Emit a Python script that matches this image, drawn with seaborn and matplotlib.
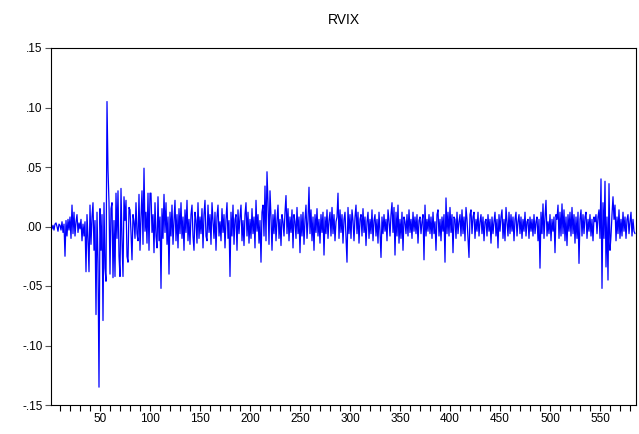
import numpy as np
import pandas as pd
import matplotlib
matplotlib.use("Agg")
import matplotlib.pyplot as plt
import seaborn as sns

title = "RVIX"
# values in thousandths
rvix_milli = [
    0, -2, 1, -3, 2, 3, 0, -4, 2, 1,
    -3, 4, -5, 2, -25, 5, -8, 6, -3, 8,
    -10, 18, -6, 12, -8, 4, 10, -5, 3, -2,
    6, -12, 2, -8, 4, -38, 10, -10, -38, 18,
    -15, 8, 20, -20, 5, -74, 12, -30, -135, 15,
    -20, 10, -79, 20, -35, -46, 105, 48, 20, -40,
    15, 20, -43, 5, -42, 28, -10, 30, -25, -42,
    32, -12, -42, 25, 5, 22, -25, -30, 16, 14,
    -5, -28, 10, 4, -10, 20, -6, -12, 27, -20,
    8, 30, -15, 49, -4, 12, -14, 28, -20, 28,
    28, -5, 10, -22, 20, -8, -18, 25, -12, 8,
    -52, 15, -10, 27, -5, 20, -15, 8, -40, 12,
    -8, 18, -15, 5, 22, -12, 10, -18, 15, -6,
    20, -10, 8, -20, 14, -5, 22, -12, 6, -15,
    10, 18, -8, -20, 12, 5, -14, 20, -10, 8,
    -6, 15, -18, 10, 22, -8, -12, 18, -5, 10,
    -15, 20, 5, -10, 12, -20, 8, 18, -8, 4,
    -12, 15, -5, 10, -18, 6, 20, -10, 5, -42,
    12, -8, 18, -15, 6, 10, -20, 14, -6, 8,
    18, -12, 5, -16, 10, 20, -8, 12, -14, 6,
    -10, 15, -6, 8, -18, 22, -4, 10, -14, 5,
    -30, 12, 18, -8, 34, -12, 46, 20, -15, 30,
    8, -20, 10, -6, 14, -12, 5, 18, -10, 6,
    -16, 10, 4, -8, 12, 26, -6, 15, -12, 8,
    -5, 14, -18, 10, 4, -10, 16, -6, 8, -22,
    10, -8, 12, -15, 6, 18, -10, 5, 33, -6,
    14, -12, 8, -20, 10, -5, 15, -8, 6, -14,
    10, -5, 12, -24, 8, -6, 14, -10, 5, 12,
    -8, 16, -6, 10, -12, 4, 8, 28, -10, 14,
    -5, 10, -14, 6, 12, -8, -30, 16, -6, 10,
    -10, 14, 5, -12, 8, 18, -6, 12, -14, 6,
    10, -8, 15, -5, 8, -16, 4, 12, -10, 6,
    -6, 14, -12, 5, 10, -8, 6, -14, 12, -4,
    -26, 8, -6, 10, -4, 6, -12, 14, 5, -8,
    10, 20, -5, 16, -24, 12, -8, 18, -14, 6,
    -10, 12, -20, 8, 4, -6, 10, -8, 14, -5,
    6, -10, 12, -4, 8, -6, 10, -14, 5, 8,
    -6, 4, 10, -28, 18, -8, 6, -4, 10, -6,
    8, -10, 12, -6, 4, -20, 10, 14, -8, 6,
    -12, 8, -4, 10, -30, 24, -6, 12, -8, 16,
    -5, 10, -22, 8, 6, -10, 12, -6, 4, 10,
    -8, 14, -6, 8, -12, 16, 6, -10, -26, 10,
    14, -6, 8, 12, -10, 6, -4, 12, -8, 4,
    10, -6, 8, -12, 4, 6, -8, 10, -4, 6,
    -14, 8, -6, 4, 12, -8, 6, -18, 10, -4,
    8, 14, -10, 6, -12, 16, 4, -8, 12, -6,
    10, -4, 8, -12, 6, 12, -8, 4, 10, -6,
    8, -10, 6, -4, 12, -8, 4, 6, -10, 8,
    -4, 6, -8, 10, -6, 4, 8, -12, 6, -35,
    12, -6, 19, -10, 8, 22, -8, 4, -6, 10,
    -12, 6, -4, 8, -22, 10, 6, 18, -10, 12,
    -8, 19, -6, 14, -12, 8, -16, 10, -4, 12,
    -8, 16, -6, 10, -14, 8, -10, 12, -31, 6,
    14, -8, 10, -6, 8, 12, -10, 6, -4, 10,
    -8, 6, -12, 8, 4, 10, -6, 8, 14, -10,
    40, -52, 20, -10, 38, -34, 8, -45, 36, -20,
    -8, 10, 25, 6, 18, -12, 8, -6, 14, -10,
    6, -8, 12, -4, 8, -10, 6, 10, -6, 4,
    12, -8, 6, -4, -6,
]
y_ticks = [-0.15, -0.10, -0.05, 0.00, 0.05, 0.10, 0.15]
y_labels = ["-.15", "-.10", "-.05", ".00", ".05", ".10", ".15"]
x_major = [50, 100, 150, 200, 250, 300, 350, 400, 450, 500, 550]

rvix = np.array(rvix_milli) / 1000.0
df = pd.DataFrame({"t": np.arange(1, len(rvix) + 1), "RVIX": rvix})

sns.set_style("white")
plt.rcParams["font.family"] = ["Liberation Sans", "DejaVu Sans"]

fig = plt.figure(figsize=(6.39, 4.34), dpi=100)
ax = fig.add_axes([51 / 639, 29 / 434, 585 / 639, 357 / 434])
sns.lineplot(data=df, x="t", y="RVIX", ax=ax, color="#0000ff", linewidth=0.9)

ax.set_xlim(1, 586)
ax.set_ylim(-0.15, 0.15)
ax.set_xlabel("")
ax.set_ylabel("")
ax.set_yticks(y_ticks)
ax.set_yticklabels(y_labels)
ax.set_xticks(x_major)
ax.set_xticklabels([str(v) for v in x_major])
ax.set_xticks(np.arange(10, 586, 10), minor=True)
ax.tick_params(axis="both", which="both", direction="out", length=4, width=0.8,
               colors="black", labelsize=8.5, pad=2, bottom=True, left=True)
ax.tick_params(axis="y", colors="#555555", labelcolor="black")
ax.tick_params(axis="x", which="minor", length=4)
for s in ax.spines.values():
    s.set_color("black")
    s.set_linewidth(0.8)
ax.set_title(title, fontsize=10, pad=17, color="black")

fig.savefig("out.png", dpi=100)
